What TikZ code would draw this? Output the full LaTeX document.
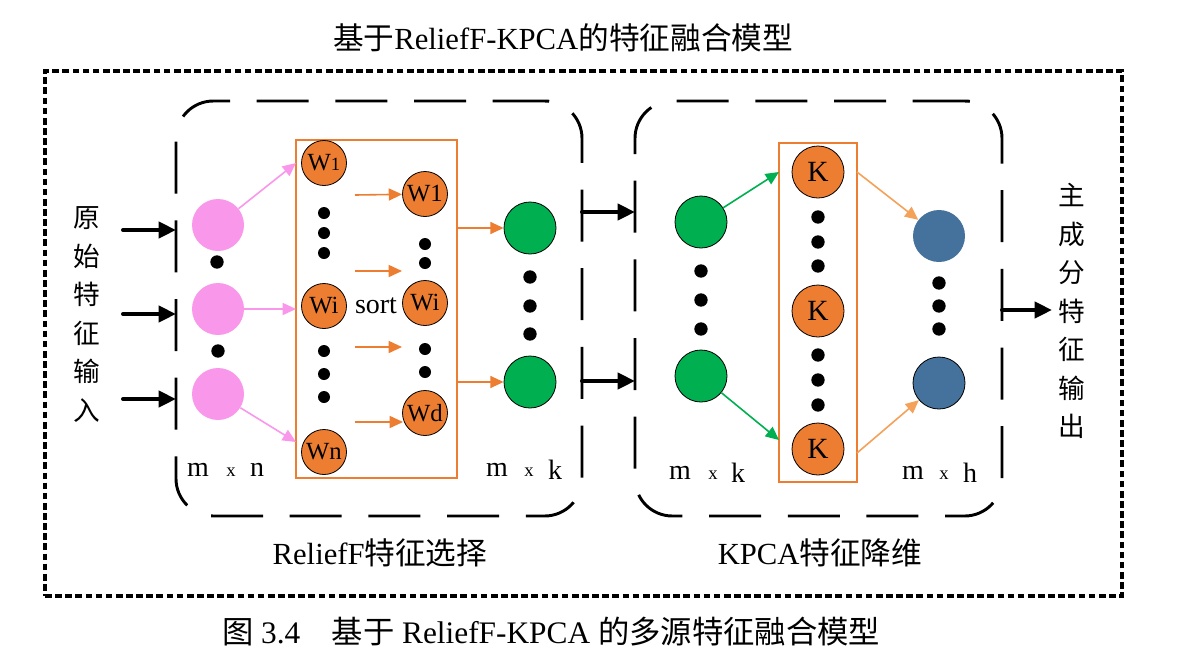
\documentclass[tikz,border=0pt]{standalone}
\usepackage{fontspec}
\setmainfont{Liberation Serif}
\newfontfamily\cjk{Noto Sans CJK SC}
\usetikzlibrary{arrows.meta,calc}
\definecolor{pinkc}{HTML}{F997EA}
\definecolor{orangec}{HTML}{ED7D31}
\definecolor{greenc}{HTML}{00B050}
\definecolor{bluec}{HTML}{44729D}
\definecolor{lorange}{HTML}{F4A15A}
\tikzset{
  dotbox/.style={draw=black, line width=2.8pt, dash pattern=on 5pt off 2.6pt},
  dashbox/.style={draw=black, line width=2.2pt, dash pattern=on 39pt off 20pt, rounded corners=28pt, outer sep=0pt, inner sep=0pt},
  obox/.style={draw=orangec, line width=1.9pt, outer sep=0pt, inner sep=0pt},
  blk/.style={circle, fill=black, inner sep=0pt, minimum size=10pt},
  sblk/.style={circle, fill=black, inner sep=0pt, minimum size=9pt},
  pinkn/.style={circle, fill=pinkc, inner sep=0pt, minimum size=39pt},
  wnode/.style={circle, fill=orangec, draw=black, line width=0.6pt, inner sep=0pt, minimum size=33.75pt, font=\fontsize{18.5}{18.5}\selectfont},
  knode/.style={circle, fill=orangec, draw=black, line width=0.6pt, inner sep=0pt, minimum size=39pt, font=\fontsize{22}{22}\selectfont},
  gnode/.style={circle, fill=greenc, draw=black, line width=0.6pt, inner sep=0pt, minimum size=39pt},
  bnode/.style={circle, fill=bluec, inner sep=0pt, minimum size=39pt},
  bignum/.style={font=\fontsize{21}{21}\selectfont, inner sep=0pt},
  smallx/.style={font=\fontsize{14}{14}\selectfont, inner sep=0pt},
  lbl/.style={font=\fontsize{23}{28}\selectfont, inner sep=0pt},
  vtext/.style={font=\fontsize{20}{28.9}\selectfont\cjk, align=center, inner sep=0pt},
  bigarrow/.style={line width=3pt, line cap=round, -{Triangle[length=13pt,width=12pt]}},
  thinarrow/.style={line width=1.2pt, -{Triangle[length=10pt,width=9pt]}},
}
\begin{document}
\begin{tikzpicture}[x=0.75pt,y=-0.75pt]
\useasboundingbox (0,0) rectangle (1178,665);

% title and frame
\node[lbl] (title) at (563,38) {{\cjk 基于}ReliefF-KPCA{\cjk 的特征融合模型}};
\node[dotbox, minimum width=807.75pt, minimum height=393.75pt, inner sep=0pt, outer sep=0pt] (frame) at (583.5,333.5) {};

% dashed stage boxes
\node[dashbox, minimum width=304.5pt, minimum height=311.25pt] (lbox) at (379,308.5) {};
\node[dashbox, minimum width=275.25pt, minimum height=311.25pt] (rbox) at (818.5,308.5) {};

% orange boxes
\node[obox, minimum width=120.75pt, minimum height=253.5pt] (ob1) at (376.5,309) {};
\node[obox, minimum width=58.5pt, minimum height=254.25pt] (ob2) at (818,312.5) {};

% ---------- ReliefF part ----------
\node[pinkn] (p1) at (218,225) {};
\node[pinkn] (p2) at (218,309) {};
\node[pinkn] (p3) at (218,394) {};
\node[blk] (pd1) at (217,262) {};
\node[blk] (pd2) at (218,351) {};

\node[wnode] (w1) at (324,163) {W{\fontsize{14}{14}\selectfont 1}};
\node[wnode] (wi) at (324,306) {Wi};
\node[wnode] (wn) at (324,452) {Wn};
\foreach \y [count=\i] in {213,233,253,351,374,397}
  \node[sblk] (wd\i) at (324,\y) {};

\node[wnode] (r1) at (425,194) {W1};
\node[wnode] (ri) at (425,303) {Wi};
\node[wnode] (rd) at (425,413) {Wd};
\foreach \y [count=\i] in {244,263,349,372}
  \node[sblk] (rdd\i) at (425,\y) {};

\node[font=\fontsize{21}{21}\selectfont, inner sep=0pt] (sort) at (376,306) {sort};

\node[gnode] (g1) at (530,228) {};
\node[gnode] (g2) at (530,382) {};
\foreach \y [count=\i] in {277,306,334}
  \node[blk] (gd\i) at (530,\y) {};

\node[bignum] (m1) at (198,470) {m};
\node[smallx] (x1) at (231,472) {x};
\node[bignum] (n1) at (257,470) {n};
\node[bignum] (m2) at (497,470) {m};
\node[smallx] (x2) at (529,472) {x};
\node[bignum] (k2) at (555,470) {k};

% ---------- KPCA part ----------
\node[gnode] (G1) at (701,222) {};
\node[gnode] (G2) at (701,376) {};
\foreach \y [count=\i] in {271,300,329}
  \node[blk] (Gd\i) at (701,\y) {};

\node[knode] (K1) at (818,172) {K};
\node[knode] (K2) at (818,311) {K};
\node[knode] (K3) at (818,449) {K};
\foreach \y [count=\i] in {217,242,266,355,380,405}
  \node[blk] (Kd\i) at (818,\y) {};

\node[bnode] (B1) at (939,236) {};
\node[bnode, draw=black, line width=0.6pt] (B2) at (939,383) {};
\foreach \y [count=\i] in {283,306,329}
  \node[blk] (Bd\i) at (939,\y) {};

\node[bignum] (m3) at (680,473) {m};
\node[smallx] (x3) at (713,475) {x};
\node[bignum] (k3) at (738,473) {k};
\node[bignum] (m4) at (913,473) {m};
\node[smallx] (x4) at (944,475) {x};
\node[bignum] (h4) at (970,473) {h};

% ---------- side texts ----------
\node[vtext] (intext) at (87,314.5) {原\\始\\特\\征\\输\\入};
\node[vtext] (outtext) at (1072,311) {主\\成\\分\\特\\征\\输\\出};
\node[lbl] (lab1) at (380,553) {ReliefF{\cjk 特征选择}};
\node[lbl] (lab2) at (820,553) {KPCA{\cjk 特征降维}};
\node[lbl, font=\fontsize{23.5}{28}\selectfont] (caption) at (551,632) {{\cjk 图} 3.4\quad{\cjk 基于} ReliefF-KPCA {\cjk 的多源特征融合模型}};

% ---------- coordinates ----------
\coordinate (in1) at (123,230);
\coordinate (in2) at (123,314);
\coordinate (in3) at (123,399);
\coordinate (ya) at (0,212);
\coordinate (yb) at (0,381);
\coordinate (yo) at (0,310);
\coordinate (out) at (1052,310);
\coordinate (s1) at (355,195);
\coordinate (s2) at (355,271);
\coordinate (s2e) at (402,271);
\coordinate (s3) at (355,347);
\coordinate (s3e) at (402,347);
\coordinate (s4) at (355,422);
\coordinate (s4e) at (403,422);
\coordinate (pk3) at (0,442);
\coordinate (gk3) at (0,440);
\coordinate (ok3) at (0,453);

% ---------- connectors ----------
\draw[bigarrow] (in1) -- (in1 -| lbox.west);
\draw[bigarrow] (in2) -- (in2 -| lbox.west);
\draw[bigarrow] (in3) -- (in3 -| lbox.west);
\draw[bigarrow] (lbox.east |- ya) -- (rbox.west |- ya);
\draw[bigarrow] (lbox.east |- yb) -- (rbox.west |- yb);
\draw[bigarrow] (rbox.east |- yo) -- (out);

\draw[thinarrow, pinkc] (p1) -- (ob1.west |- w1);
\draw[thinarrow, pinkc] (p2) -- (ob1.west |- p2);
\draw[thinarrow, pinkc] (p3) -- (ob1.west |- pk3);

\draw[thinarrow, orangec] (s1) -- (r1);
\draw[thinarrow, orangec] (s2) -- (s2e);
\draw[thinarrow, orangec] (s3) -- (s3e);
\draw[thinarrow, orangec] (s4) -- (s4e);

\draw[thinarrow, orangec] (ob1.east |- g1) -- (g1);
\draw[thinarrow, orangec] (ob1.east |- g2) -- (g2);

\draw[thinarrow, greenc] (G1) -- (ob2.west |- K1);
\draw[thinarrow, greenc] (G2) -- (ob2.west |- gk3);
\draw[thinarrow, lorange] (ob2.east |- K1) -- (B1);
\draw[thinarrow, lorange] (ob2.east |- ok3) -- (B2);
\end{tikzpicture}
\end{document}
